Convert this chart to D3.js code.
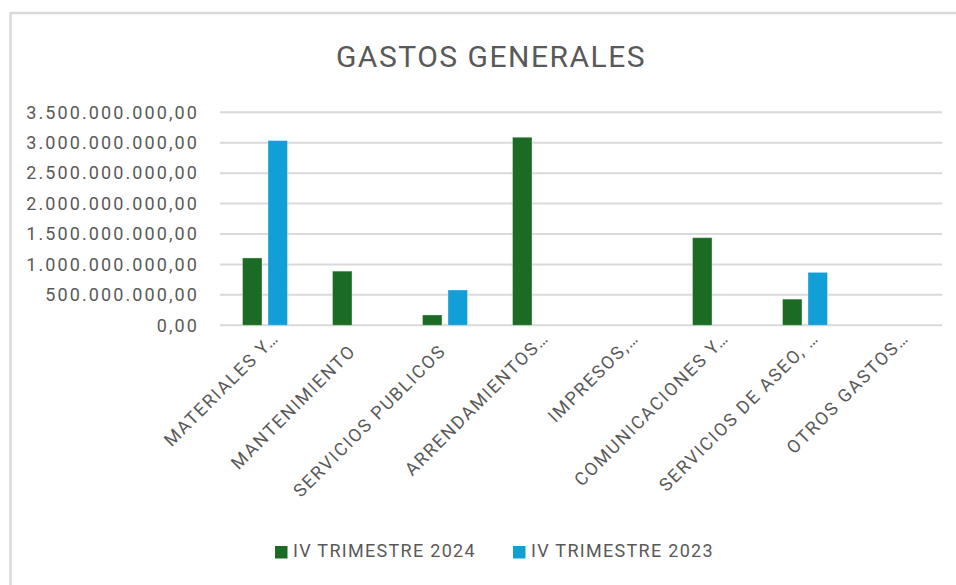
<!DOCTYPE html>
<html>
<head>
<meta charset="utf-8">
<script src="https://cdn.jsdelivr.net/npm/d3@7"></script>
<style>
  body { margin: 0; background: #fff; }
  text { font-family: Roboto, "Liberation Sans", sans-serif; fill: #595959; }
  .xlabel { white-space: pre; }
</style>
</head>
<body>
<svg id="chart"></svg>
<script>
// the untruncated source labels carry trailing blanks, as in the workbook
const categories = [
  "MATERIALES Y…",
  "MANTENIMIENTO   ",
  "SERVICIOS PUBLICOS   ",
  "ARRENDAMIENTOS…",
  "IMPRESOS,…",
  "COMUNICACIONES Y…",
  "SERVICIOS DE ASEO, …",
  "OTROS GASTOS…",
];
const seriesNames = ["IV TRIMESTRE 2024", "IV TRIMESTRE 2023"];
const values2024 = [1.107e9, 0.89e9, 0.17e9, 3.09e9, 0, 1.44e9, 0.43e9, 0];
const values2023 = [3.036e9, 0, 0.58e9, 0, 0, 0, 0.87e9, 0];
const yTicks = [0, 5e8, 1e9, 1.5e9, 2e9, 2.5e9, 3e9, 3.5e9];
const colors = ["#1b6b24", "#129fd8"];

const W = 956, H = 585;

const svg = d3.select("#chart").attr("width", W).attr("height", H);

// chart frame (only top and left edges are visible)
svg.append("line").attr("x1", 10.5).attr("x2", W).attr("y1", 13).attr("y2", 13)
  .attr("stroke", "#d9d9d9").attr("stroke-width", 2.5);
svg.append("line").attr("x1", 10.5).attr("x2", 10.5).attr("y1", 12).attr("y2", H)
  .attr("stroke", "#d9d9d9").attr("stroke-width", 2.5);

const locale = d3.formatLocale({ decimal: ",", thousands: ".", grouping: [3], currency: ["", ""] });
const fmt = locale.format(",.2f");

const x = d3.scaleBand().domain(categories).range([220, 940]).paddingInner(0.5).paddingOuter(0.25);
const xSub = d3.scaleBand().domain(seriesNames).range([0, x.bandwidth()]).paddingInner(0.235);
const y = d3.scaleLinear().domain([0, 3.5e9]).range([325.3, 112.3]);

// gridlines
svg.append("g")
  .selectAll("line")
  .data(yTicks)
  .join("line")
  .attr("x1", 220).attr("x2", 942)
  .attr("y1", (d) => y(d)).attr("y2", (d) => y(d))
  .attr("stroke", "#d9d9d9").attr("stroke-width", 2);

// y axis
const yAxis = svg.append("g")
  .attr("transform", "translate(220,0)")
  .call(d3.axisLeft(y).tickValues(yTicks).tickFormat(fmt).tickSize(0).tickPadding(21));
yAxis.select(".domain").remove();
yAxis.selectAll("text")
  .style("font-family", "Roboto, sans-serif")
  .style("font-size", "18px")
  .style("letter-spacing", "2.1px")
  .style("fill", "#595959");

// bars
const rows = categories.map((c, i) => ({ cat: c, vals: [values2024[i], values2023[i]] }));
const groups = svg.append("g")
  .selectAll("g")
  .data(rows)
  .join("g")
  .attr("transform", (d) => "translate(" + x(d.cat) + ",0)");

groups.selectAll("rect")
  .data((d) => d.vals.map((v, j) => ({ name: seriesNames[j], v: v, j: j })).filter((e) => e.v > 0))
  .join("rect")
  .attr("x", (d) => xSub(d.name))
  .attr("width", xSub.bandwidth())
  .attr("y", (d) => y(d.v))
  .attr("height", (d) => y(0) - y(d.v))
  .attr("fill", (d) => colors[d.j])
  .attr("stroke", "rgba(255,255,255,0.35)")
  .attr("stroke-width", 1);

// x labels
svg.append("g")
  .selectAll("text")
  .data(categories)
  .join("text")
  .attr("class", "xlabel")
  .attr("transform", (d) => "translate(" + (x(d) + x.bandwidth() / 2 + 15) + ",339) rotate(-45)")
  .attr("text-anchor", "end")
  .style("font-size", "18px")
  .style("letter-spacing", "1.7px")
  .text((d) => d);

// title
svg.append("text")
  .attr("x", 491).attr("y", 67)
  .attr("text-anchor", "middle")
  .style("font-size", "30px")
  .style("letter-spacing", "1.5px")
  .text("GASTOS GENERALES");

// legend
const legendX = [275, 513];
const legend = svg.append("g")
  .selectAll("g")
  .data(seriesNames)
  .join("g")
  .attr("transform", (d, i) => "translate(" + legendX[i] + ",546)");
legend.append("rect").attr("width", 12.5).attr("height", 12.5).attr("fill", (d, i) => colors[i]);
legend.append("text")
  .attr("x", 18).attr("y", 11)
  .style("font-size", "18px")
  .style("letter-spacing", "1.3px")
  .text((d) => d);
</script>
</body>
</html>
